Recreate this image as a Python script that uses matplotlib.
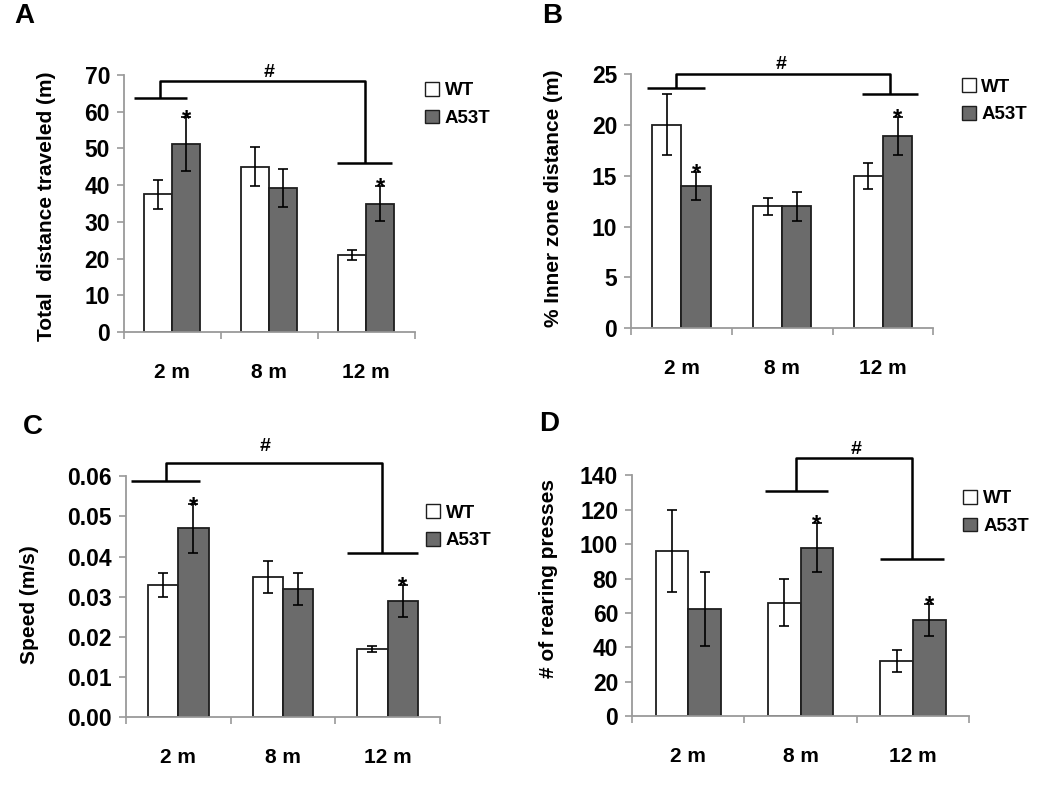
import numpy as np
import matplotlib
matplotlib.use("Agg")
import matplotlib.pyplot as plt
from matplotlib.patches import Patch

plt.rcParams['font.family'] = ['Liberation Sans', 'DejaVu Sans']
plt.rcParams['font.weight'] = 'bold'

# Data
cats = ['2 m', '8 m', '12 m']
groups = ['WT', 'A53T']

a_wt = [37.5, 45.0, 21.0]
a_wt_err = [3.9, 5.3, 1.4]
a_mut = [51.2, 39.2, 35.0]
a_mut_err = [7.3, 5.2, 4.8]

b_wt = [20.0, 12.0, 15.0]
b_wt_err = [3.0, 0.85, 1.3]
b_mut = [14.0, 12.0, 18.9]
b_mut_err = [1.4, 1.4, 1.9]

c_wt = [0.033, 0.035, 0.017]
c_wt_err = [0.003, 0.004, 0.0008]
c_mut = [0.047, 0.032, 0.029]
c_mut_err = [0.006, 0.004, 0.004]

d_wt = [96, 66, 32]
d_wt_err = [24, 13.5, 6.5]
d_mut = [62, 98, 56]
d_mut_err = [21.5, 14.5, 9.3]

# asterisks on A53T bars (category index)
a_stars = [0, 2]
b_stars = [0, 2]
c_stars = [0, 2]
d_stars = [1, 2]

# brackets: (x0, x1, y) left, (x0, x1, y) right, top y, '#' x
a_br = [(-0.40, 0.155, 63.8), (1.70, 2.27, 46.0), 68.4, 1.0]
b_br = [(-0.34, 0.23, 23.6), (1.79, 2.35, 23.05), 25.0, 0.99]
c_br = [(-0.45, 0.21, 0.0588), (1.61, 2.29, 0.0409), 0.0632, 0.83]
d_br = [(0.68, 1.24, 130.9), (1.71, 2.28, 91.6), 150.3, 1.49]

wt_color = 'white'
mut_color = '#6b6b6b'
edge = '#1e1e1e'
spine_col = '#9a9a9a'

fig = plt.figure(figsize=(10.5, 7.89), dpi=100)


def panel(rect, wt, wt_err, mut, mut_err, ylim, yticks, yfmt, ylabel,
          lab_xy, stars, br, hash_off, leg_xy, letter, letter_xy):
    ax = fig.add_axes(rect)
    x = np.arange(len(cats))
    w = 0.29
    ekw = dict(ecolor='black', elinewidth=1.2, capsize=3.5, capthick=1.2)
    ax.bar(x - w / 2, wt, w, yerr=wt_err, color=wt_color, edgecolor=edge,
           linewidth=1.3, error_kw=ekw, zorder=2)
    ax.bar(x + w / 2, mut, w, yerr=mut_err, color=mut_color, edgecolor=edge,
           linewidth=1.3, error_kw=ekw, zorder=2)
    ax.set_xlim(-0.5, 2.5)
    ax.set_ylim(*ylim)
    ax.set_yticks(yticks)
    ax.set_yticklabels([yfmt.format(t) for t in yticks], fontsize=16.5,
                       fontweight='bold')
    ax.set_xticks([-0.5, 0.5, 1.5, 2.5])
    ax.set_xticklabels([])
    ax.set_xticks(x, minor=True)
    ax.set_xticklabels(cats, minor=True, fontsize=15, fontweight='bold')
    ax.tick_params(axis='x', which='minor', length=0, pad=22)
    ax.tick_params(axis='x', which='major', length=5, color=spine_col,
                   width=1.2)
    ax.tick_params(axis='y', length=5, color=spine_col, width=1.2, pad=5)
    for s in ['top', 'right']:
        ax.spines[s].set_visible(False)
    for s in ['left', 'bottom']:
        ax.spines[s].set_color(spine_col)
        ax.spines[s].set_linewidth(1.3)
    ax.set_ylabel(ylabel, fontsize=15, fontweight='bold', va='center')
    ax.yaxis.set_label_coords(*lab_xy)

    # significance stars
    for i in stars:
        ax.annotate('*', (x[i] + w / 2, mut[i] + mut_err[i]),
                    xytext=(0, -6), textcoords='offset points',
                    ha='center', va='baseline', fontsize=17,
                    fontweight='bold', annotation_clip=False)

    # bracket
    (l0, l1, ly), (r0, r1, ry), ty, hx = br
    lc, rc = (l0 + l1) / 2, (r0 + r1) / 2
    kw = dict(color='black', lw=1.8, clip_on=False, solid_capstyle='butt')
    ax.plot([l0, l1], [ly, ly], **kw)
    ax.plot([r0, r1], [ry, ry], **kw)
    ax.plot([lc, lc, rc, rc], [ly, ty, ty, ry], **kw)
    ax.annotate('#', (hx, ty), xytext=(0, hash_off),
                textcoords='offset points', ha='center', va='baseline',
                fontsize=14, fontweight='bold', annotation_clip=False)

    handles = [Patch(facecolor=wt_color, edgecolor=edge, linewidth=1.0),
               Patch(facecolor=mut_color, edgecolor=edge, linewidth=1.0)]
    ax.legend(handles, groups, loc='center left', bbox_to_anchor=leg_xy,
              frameon=False, prop={'size': 13.5, 'weight': 'bold'},
              handlelength=0.75, handleheight=0.75, handletextpad=0.3,
              labelspacing=0.55, borderpad=0, borderaxespad=0)

    fig.text(letter_xy[0] / 1050, 1 - letter_xy[1] / 789, letter,
             fontsize=20, fontweight='bold', ha='center', va='center')
    return ax


panel([0.118, 0.579, 0.277, 0.326], a_wt, a_wt_err, a_mut, a_mut_err,
      (0, 70), np.arange(0, 71, 10), '{:.0f}', 'Total  distance traveled (m)',
      (-0.265, 0.49), a_stars, a_br, 3, (1.035, 0.885), 'A', (24, 16))

panel([0.601, 0.584, 0.288, 0.322], b_wt, b_wt_err, b_mut, b_mut_err,
      (0, 25), np.arange(0, 26, 5), '{:.0f}', '% Inner zone distance (m)',
      (-0.258, 0.51), b_stars, b_br, 4, (1.093, 0.895), 'B', (552, 16))

panel([0.120, 0.0913, 0.299, 0.305], c_wt, c_wt_err, c_mut, c_mut_err,
      (0, 0.06), np.arange(0, 0.061, 0.01), '{:.2f}', 'Speed (m/s)',
      (-0.306, 0.465), c_stars, c_br, 9, (0.955, 0.79), 'C', (33, 427))

panel([0.602, 0.0925, 0.321, 0.305], d_wt, d_wt_err, d_mut, d_mut_err,
      (0, 140), np.arange(0, 141, 20), '{:.0f}', '# of rearing presses',
      (-0.249, 0.57), d_stars, d_br, 3, (0.983, 0.846), 'D', (549, 424))

fig.savefig('out.png', dpi=100, facecolor='white')
